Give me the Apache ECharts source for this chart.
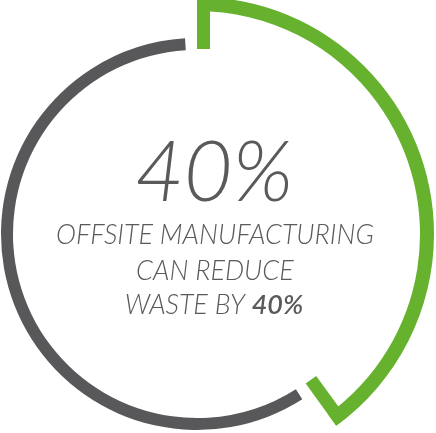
<!DOCTYPE html>
<html>
<head>
<meta charset="utf-8">
<script src="https://cdn.jsdelivr.net/npm/echarts@6/dist/echarts.min.js"></script>
<style>
  html, body { margin: 0; padding: 0; background: #fff; }
  #main { width: 436px; height: 433px; }
</style>
</head>
<body>
<div id="main"></div>
<script>
// share of waste saved vs. the rest
const shareNames = ["Saved", "Rest"];
const shareValues = [40, 60];
const headline = "40%";
const captionLines = ["OFFSITE MANUFACTURING", "CAN REDUCE"];
const lastLine = ["WASTE BY ", "40%"];

const GREEN = "#66b22e";
const GREY = "#58585a";
const TEXT = "#5a5a5a";

const center = [197, 234];
const outerR = 237;
const tickInner = 185;
const tickWidth = 13;

const chart = echarts.init(document.getElementById("main"), null, { renderer: "canvas" });

// angle offset (in percent units) so the tick edge sits flush with the arc end
function flush(pos, r) {
  const deg = (Math.asin(tickWidth / 2 / r) * 180) / Math.PI;
  return pos + (deg / 360) * 100;
}

const total = shareValues[0] + shareValues[1];
const bounds = [0, (shareValues[0] / total) * 100];

const tickSeries = bounds.map((b, i) => ({
  type: "line",
  coordinateSystem: "polar",
  silent: true,
  symbol: "none",
  lineStyle: { color: GREEN, width: tickWidth, cap: "butt" },
  // second tick sits on the counter-clockwise side of the arc end
  data: i === 0
    ? [[tickInner, flush(b, tickInner)], [outerR, flush(b, outerR)]]
    : [[tickInner, 2 * b - flush(b, tickInner)], [outerR, 2 * b - flush(b, outerR)]],
  z: 3,
}));

const option = {
  animation: false,
  polar: { center: center, radius: outerR },
  angleAxis: { type: "value", min: 0, max: 100, startAngle: 90, clockwise: true, show: false },
  radiusAxis: { type: "value", min: 0, max: outerR, show: false },
  series: [
    {
      name: "green",
      type: "pie",
      center: center,
      radius: [outerR - 14, outerR],
      startAngle: 90,
      clockwise: true,
      silent: true,
      label: { show: false },
      labelLine: { show: false },
      data: [
        { value: shareValues[0], name: shareNames[0], itemStyle: { color: GREEN } },
        { value: shareValues[1], name: shareNames[1], itemStyle: { color: "transparent" } },
      ],
      z: 2,
    },
    {
      name: "grey",
      type: "pie",
      center: center,
      radius: [184, 196],
      startAngle: 90,
      clockwise: true,
      padAngle: 7,
      silent: true,
      label: { show: false },
      labelLine: { show: false },
      data: [
        { value: shareValues[0], name: shareNames[0], itemStyle: { color: "transparent" } },
        { value: shareValues[1], name: shareNames[1], itemStyle: { color: GREY } },
      ],
      z: 2,
    },
    ...tickSeries,
  ],
  graphic: [
    {
      type: "text",
      x: 214,
      y: 174,
      style: {
        text: headline,
        fill: TEXT,
        font: "italic 300 84px Lato",
        align: "center",
        verticalAlign: "middle",
      },
    },
    ...captionLines.map((t, i) => ({
      type: "text",
      x: 215,
      y: 235 + i * 36,
      style: {
        text: t,
        fill: TEXT,
        font: "italic 300 27px Lato",
        align: "center",
        verticalAlign: "middle",
      },
    })),
    {
      type: "text",
      x: 214,
      y: 305,
      style: {
        text: "{a|" + lastLine[0] + "}{b|" + lastLine[1] + "}",
        align: "center",
        verticalAlign: "middle",
        rich: {
          a: { fill: TEXT, fontFamily: "Lato", fontStyle: "italic", fontWeight: 300, fontSize: 27 },
          b: { fill: TEXT, fontFamily: "Lato", fontStyle: "italic", fontWeight: 600, fontSize: 27 },
        },
      },
    },
  ],
};

chart.setOption(option);
</script>
</body>
</html>
